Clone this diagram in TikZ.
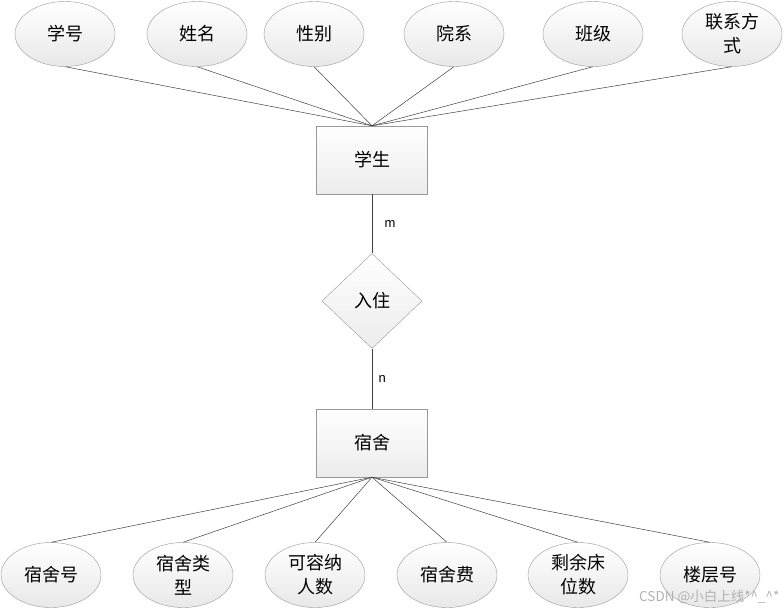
\documentclass[tikz,border=0pt]{standalone}
\usepackage{fontspec}
\setmainfont{Liberation Sans}
\newfontfamily\cjk{Noto Sans CJK SC}
\usetikzlibrary{shapes.geometric}
\usetikzlibrary{positioning}
\tikzset{attr/.style = {draw = gray!80, ellipse, inner sep = 0,
                        minimum width = 100, minimum height = 65,
                        top color = white, bottom color = gray!18,
                        align = center, font = \cjk\fontsize{18}{24}\selectfont}}
\tikzset{entity/.style = {draw = gray!80, rectangle, inner sep = 0,
                          minimum width = 111, minimum height = 68,
                          top color = white, bottom color = gray!15,
                          font = \cjk\fontsize{18}{24}\selectfont}}
\tikzset{relation/.style = {draw = gray!80, diamond, inner sep = 0,
                            minimum width = 100, minimum height = 95,
                            top color = white, bottom color = gray!15,
                            font = \cjk\fontsize{18}{24}\selectfont}}
\tikzset{link/.style = {gray!50!black, line width = 0.5pt}}
\begin{document}
\begin{tikzpicture}[x = 1pt, y = -1pt]
        \useasboundingbox (0, 0) rectangle (784, 610);
        % entities and relationship
        \node [entity] (stu) at (372, 160) {学生};
        \node [relation] (rz) at (372, 301) {入住};
        \node [entity] (dorm) at (372, 443) {宿舍};

        % attributes of 学生
        \node [attr] (xh) at (65, 34) {学号};
        \node [attr] (xm) at (197, 34) {姓名};
        \node [attr] (xb) at (314, 34) {性别};
        \node [attr] (yx) at (454, 34) {院系};
        \node [attr] (bj) at (593, 34) {班级};
        \node [attr] (lx) at (732, 34) {联系方\\式};

        % attributes of 宿舍
        \node [attr] (ssh) at (51, 575) {宿舍号};
        \node [attr] (sslx) at (183, 575) {宿舍类\\型};
        \node [attr] (krn) at (315, 575) {可容纳\\人数};
        \node [attr] (ssf) at (447, 575) {宿舍费};
        \node [attr] (sy) at (578, 575) {剩余床\\位数};
        \node [attr] (lc) at (710, 575) {楼层号};

        \foreach \a in {xh, xm, xb, yx, bj, lx}
          \draw [link] (\a.south) -- (stu.north);
        \foreach \a in {ssh, sslx, krn, ssf, sy, lc}
          \draw [link] (\a.north) -- (dorm.south);

        \draw [link] (stu) -- node [black, right = 9, font = \fontsize{13}{15}\selectfont] {m} (rz);
        \draw [link] (rz) -- node [black, right = 3, font = \fontsize{13}{15}\selectfont] {n} (dorm);

        \node [gray!60, anchor = east, font = \cjk\fontsize{13.5}{15}\selectfont] (wm) at (783, 597) {CSDN @小白上线*\^{}\_\^{}*};
      \end{tikzpicture}
\end{document}
